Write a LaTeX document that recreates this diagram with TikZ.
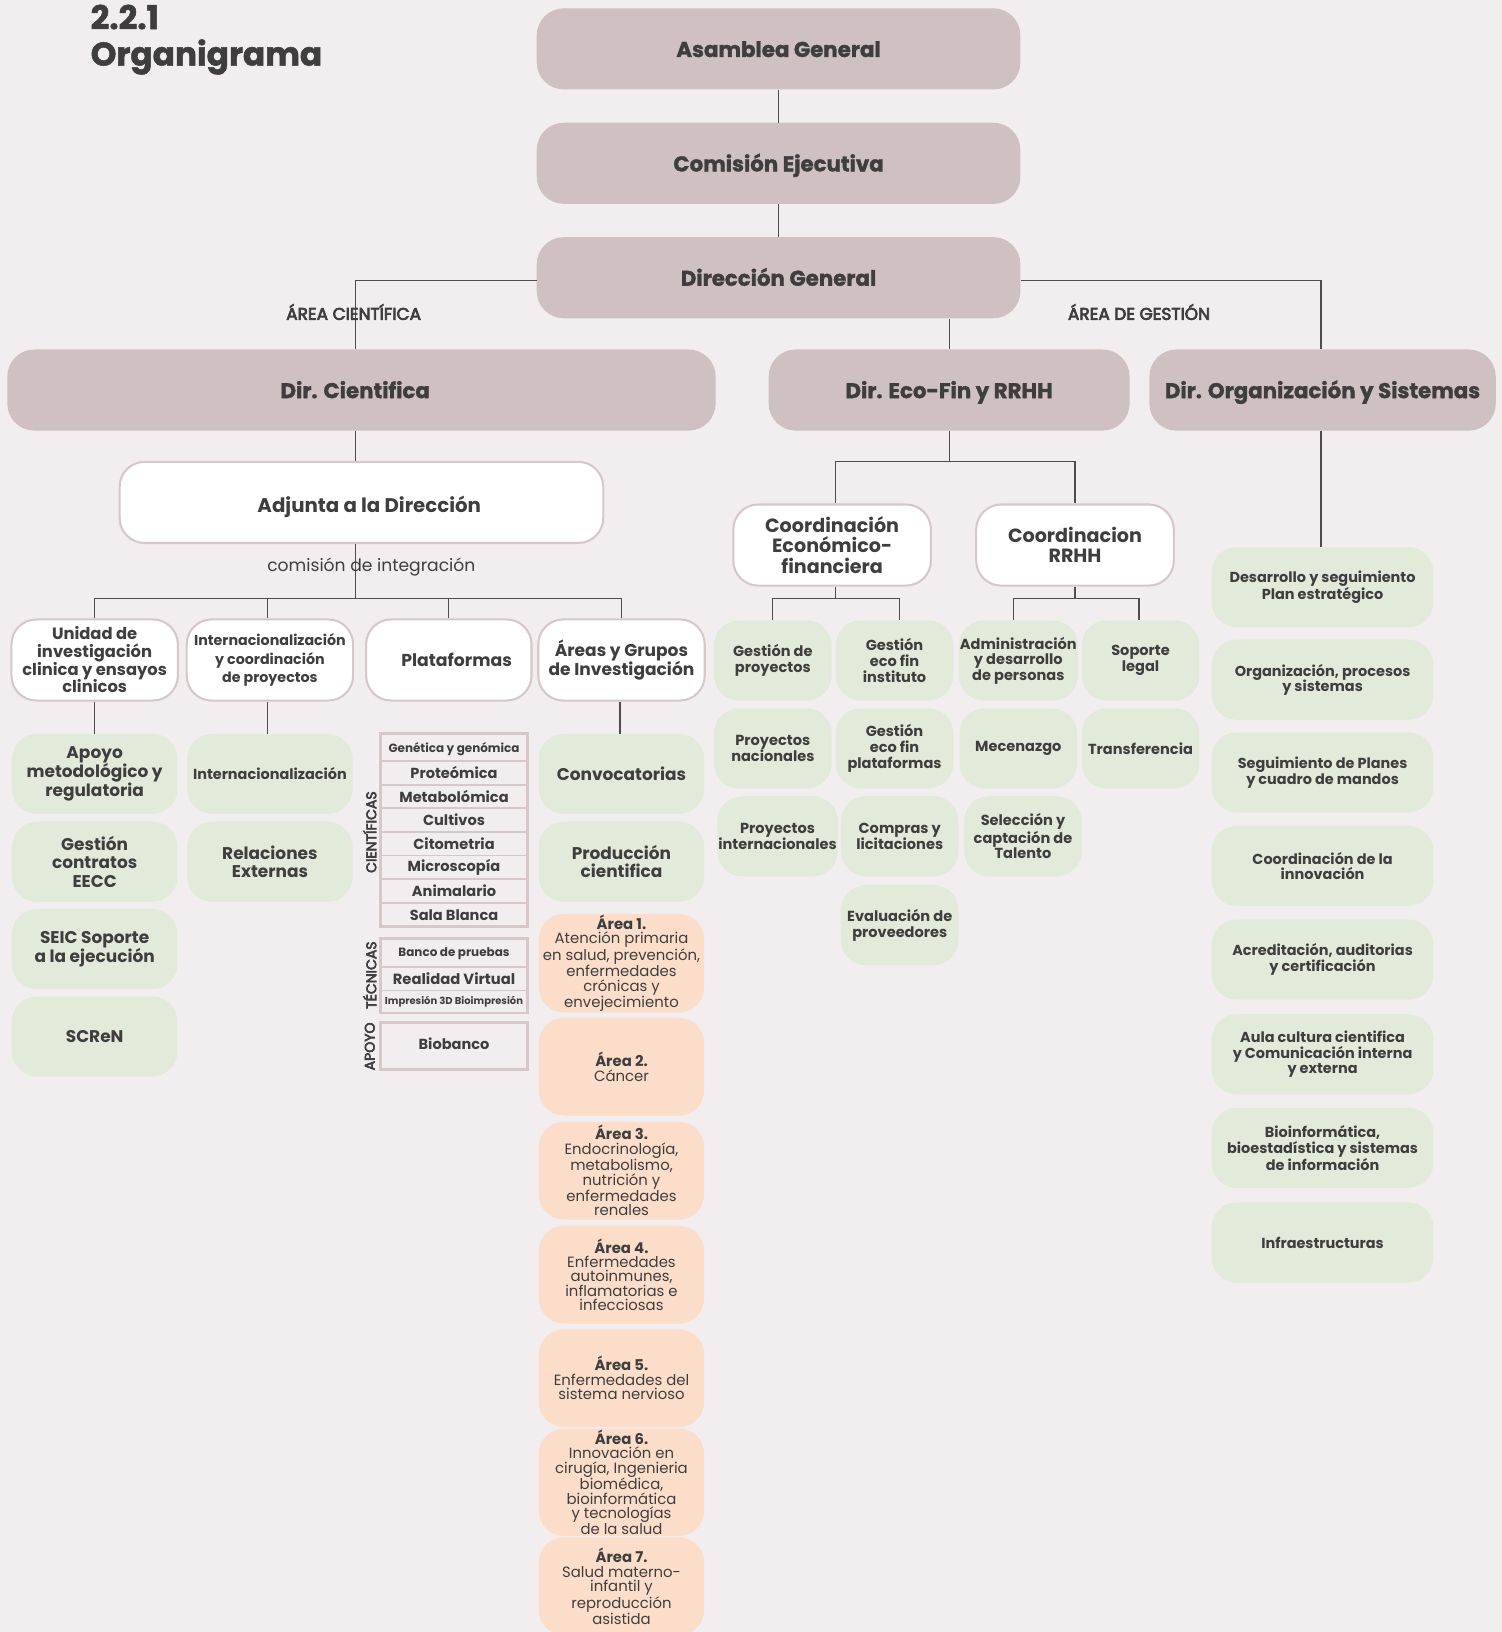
\documentclass[tikz,border=0pt]{standalone}
\usepackage{fontspec}
\setmainfont{Poppins}
\newfontfamily\heavyfont{Poppins}[BoldFeatures={FakeBold=1.5}]
\newfontfamily\medfont{Poppins}[FakeBold=4]

\definecolor{bgc}{HTML}{F2EEEF}
\definecolor{topc}{HTML}{CFC1C1}
\definecolor{bordc}{HTML}{D6C7C8}
\definecolor{greenc}{HTML}{E2EADA}
\definecolor{peachc}{HTML}{FCDDCA}
\definecolor{linec}{HTML}{4D4D4D}
\definecolor{txtc}{HTML}{3E3E3E}

\tikzset{
  topbox/.style={rectangle, rounded corners=26pt, fill=topc, text=txtc, minimum height=78pt,
    inner sep=2pt, text height=17pt, text depth=1.5pt, font=\fontsize{20.5}{22}\heavyfont\bfseries},
  whitebox/.style={rectangle, rounded corners=24pt, fill=white, draw=bordc, line width=2pt,
    text=txtc, minimum height=78pt, inner sep=2pt, align=center},
  greenbox/.style={rectangle, rounded corners=24pt, fill=greenc, text=txtc, minimum height=77pt,
    inner sep=1pt, align=center},
  colbox/.style={greenbox, minimum width=159pt, font=\fontsize{16.3}{17.5}\selectfont\bfseries},
  ecobox/.style={greenbox, minimum width=113pt, font=\fontsize{14}{15}\selectfont\bfseries},
  orgbox/.style={greenbox, minimum width=213pt, font=\fontsize{13.9}{15}\selectfont\bfseries},
  peachbox/.style={rectangle, rounded corners=24pt, fill=peachc, text=txtc, minimum width=159pt,
    minimum height=94pt, inner sep=1pt, align=center, font=\fontsize{14.3}{13.9}\selectfont},
  arealabel/.style={text=txtc, inner sep=1pt, font=\fontsize{16.3}{18}\medfont},
  cell/.style={text=txtc, inner sep=0pt, font=\fontsize{14}{15}\selectfont\bfseries},
  grouplabel/.style={text=txtc, rotate=90, inner sep=0pt, font=\fontsize{13.5}{15}\medfont},
  link/.style={draw=linec, line width=1.1pt},
  tablerule/.style={draw=bordc, line width=1.4pt},
  tableframe/.style={draw=bordc, line width=2.6pt},
}

\begin{document}
\begin{tikzpicture}[x=1pt, y=-1pt]
  \useasboundingbox (0,0) rectangle (1444,1569);
  \fill[bgc] (0,0) rectangle (1444,1569);

  % title
  \node[text=txtc, anchor=base west, inner sep=0pt, font=\fontsize{31.5}{36}\heavyfont\bfseries] (titnum) at (87,28) {2.2.1};
  \node[text=txtc, anchor=base west, inner sep=0pt, font=\fontsize{31.5}{36}\heavyfont\bfseries] (titname) at (87,63) {Organigrama};

  % governing bodies
  \node[topbox, minimum width=465pt] (asamblea) at (748.5,47) {Asamblea General};
  \node[topbox, minimum width=465pt] (comision) at (748.5,157) {Comisión Ejecutiva};
  \node[topbox, minimum width=465pt] (direccion) at (748.5,267) {Dirección General};

  \node[topbox, minimum width=681pt] (dircient) at (347.5,375) {Dir. Cientifica\hspace*{12pt}};
  \node[topbox, minimum width=347pt] (direco) at (912.5,375) {Dir. Eco-Fin y RRHH};
  \node[topbox, minimum width=333pt] (dirorg) at (1271.5,375) {Dir. Organización y Sistemas};

  \draw[link] (asamblea) -- (comision);
  \draw[link] (comision) -- (direccion);
  \draw[link] ([yshift=-3pt]direccion.west) -| ([xshift=-5.5pt]dircient.north);
  \draw[link] (direccion.south -| direco.north) -- (direco.north);
  \draw[link] ([yshift=-3pt]direccion.east) -| ([xshift=-1.5pt]dirorg.north);

  \node[arealabel] (areacien) at (340,300) {ÁREA CIENTÍFICA};
  \node[arealabel] (areagest) at (1095,300) {ÁREA DE GESTIÓN};

  % area cientifica
  \node[whitebox, minimum width=465pt, text height=21pt, text depth=1.5pt, font=\fontsize{19}{20}\selectfont\bfseries] (adjunta) at (347.5,483) {\hspace*{15pt}Adjunta a la Dirección};
  \draw[link] ([xshift=-5.5pt]dircient.south) -- ([xshift=-5.5pt]adjunta.north);

  \coordinate (cienjoin) at (342,575);
  \draw[link] ([xshift=-5.5pt]adjunta.south) -- (cienjoin);
  \node[text=txtc, inner sep=1pt, font=\fontsize{16.5}{18}\selectfont] (comint) at (357,545) {comisión de integración};

  \node[whitebox, minimum width=160pt, font=\fontsize{15.7}{17}\selectfont\bfseries] (unidad) at (91,634.5) {Unidad de\\investigación\\clinica y ensayos\\clinicos};
  \node[whitebox, minimum width=160pt, font=\fontsize{13.7}{17.5}\selectfont\bfseries] (internac) at (259.5,634.5) {Internacionalización\\y coordinación\\de proyectos};
  \node[whitebox, minimum width=159pt, font=\fontsize{16.6}{18}\selectfont\bfseries] (plataformas) at (431.5,634.5) {\hspace*{15pt}Plataformas};
  \node[whitebox, minimum width=160pt, font=\fontsize{16.4}{18.5}\selectfont\bfseries] (areas) at (597.5,634.5) {Áreas y Grupos\\de Investigación};

  \draw[link] (unidad.north) |- (cienjoin) -| (areas.north);
  \draw[link] ([xshift=-2.5pt]internac.north) -- ([xshift=-2.5pt]internac.north |- cienjoin);
  \draw[link] (plataformas.north) -- (plataformas.north |- cienjoin);

  \node[colbox] (apoyo) at (91,744) {Apoyo\\metodológico y\\regulatoria};
  \node[colbox] (gestcontr) at (91,828.5) {Gestión\\contratos\\EECC};
  \node[colbox] (seic) at (91,912.5) {SEIC Soporte\\a la ejecución};
  \node[colbox] (screen) at (91,996.5) {SCReN};
  \draw[link] (unidad) -- (apoyo);

  \node[colbox, font=\fontsize{13.9}{15}\selectfont\bfseries] (internac2) at (259.5,744) {Internacionalización};
  \node[colbox] (relaciones) at (259.5,828.5) {Relaciones\\Externas};
  \draw[link] ([xshift=-2.5pt]internac.south) -- ([xshift=-2.5pt]internac2.north);

  \node[colbox] (convoc) at (597.5,744) {Convocatorias};
  \node[colbox] (produccion) at (597.5,828.5) {Producción\\cientifica};
  \draw[link] ([xshift=-1.5pt]areas.south) -- ([xshift=-1.5pt]convoc.north);

  % plataformas
  \draw[tableframe] (366,705) rectangle (507,891);
  \draw[tablerule] (366,731.5) -- (507,731.5) (366,754.5) -- (507,754.5) (366,777) -- (507,777)
    (366,800) -- (507,800) (366,822.5) -- (507,822.5) (366,845) -- (507,845) (366,868) -- (507,868);
  \node[cell, font=\fontsize{11.5}{13}\selectfont\bfseries] (genetica) at (436.5,720) {Genética y genómica};
  \node[cell] (proteomica) at (436.5,743) {Proteómica};
  \node[cell] (metabolomica) at (436.5,766) {Metabolómica};
  \node[cell] (cultivos) at (436.5,788.5) {Cultivos};
  \node[cell] (citometria) at (436.5,811) {Citometria};
  \node[cell] (microscopia) at (436.5,834) {Microscopía};
  \node[cell] (animalario) at (436.5,856.5) {Animalario};
  \node[cell] (salablanca) at (436.5,879.5) {Sala Blanca};

  \draw[tableframe] (366,902) rectangle (507,974);
  \draw[tablerule] (366,929.5) -- (507,929.5) (366,952) -- (507,952);
  \node[cell, font=\fontsize{11.5}{13}\selectfont\bfseries] (banco) at (436.5,917) {Banco de pruebas};
  \node[cell, font=\fontsize{14.2}{15}\selectfont\bfseries] (realidad) at (436.5,941) {Realidad Virtual};
  \node[cell, font=\fontsize{9.6}{11}\selectfont\bfseries] (impresion) at (436.5,963) {Impresión 3D Bioimpresión};

  \draw[tableframe] (366,983) rectangle (507,1028);
  \node[cell] (biobanco) at (436.5,1003) {Biobanco};

  \node[grouplabel] (lblcien) at (355.5,800) {CIENTÍFICAS};
  \node[grouplabel] (lbltec) at (355.5,937.5) {TÉCNICAS};
  \node[grouplabel] (lblapoyo) at (355.5,1006) {APOYO};

  % areas de investigacion
  \node[peachbox] (area1) at (597.5,926) {\textbf{Área 1.}\\Atención primaria\\en salud, prevención,\\enfermedades\\crónicas y\\envejecimiento};
  \node[peachbox] (area2) at (597.5,1025.5) {\textbf{Área 2.}\\Cáncer};
  \node[peachbox] (area3) at (597.5,1125.5) {\textbf{Área 3.}\\Endocrinología,\\metabolismo,\\nutrición y\\enfermedades\\renales};
  \node[peachbox] (area4) at (597.5,1225.5) {\textbf{Área 4.}\\Enfermedades\\autoinmunes,\\inflamatorias e\\infecciosas};
  \node[peachbox] (area5) at (597.5,1325) {\textbf{Área 5.}\\Enfermedades del\\sistema nervioso};
  \node[peachbox] (area6) at (597.5,1425) {\textbf{Área 6.}\\Innovación en\\cirugía, Ingenieria\\biomédica,\\bioinformática\\y tecnologías\\de la salud};
  \node[peachbox] (area7) at (597.5,1525) {\textbf{Área 7.}\\Salud materno-\\infantil y\\reproducción\\asistida};

  % area de gestion
  \node[whitebox, minimum width=190pt, font=\fontsize{18.4}{19.5}\selectfont\bfseries] (coordeco) at (800,524) {Coordinación\\Económico-\\financiera};
  \node[whitebox, minimum width=190pt, font=\fontsize{18.4}{19.5}\selectfont\bfseries] (coordrrhh) at (1033.5,524) {Coordinacion\\RRHH};
  \coordinate (ecojoin) at (912.5,444);
  \draw[link] (direco.south) -- (ecojoin);
  \draw[link] ([xshift=3pt]coordeco.north) |- (ecojoin) -| (coordrrhh.north);

  \node[ecobox] (gproy) at (743,635) {Gestión de\\proyectos};
  \node[ecobox] (pnac) at (743,719.5) {Proyectos\\nacionales};
  \node[ecobox] (pint) at (747.5,804) {Proyectos\\internacionales};
  \node[ecobox] (gecoinst) at (860,635) {Gestión\\eco fin\\instituto};
  \node[ecobox] (gecoplat) at (860,719.5) {Gestión\\eco fin\\plataformas};
  \node[ecobox] (compras) at (865,804) {Compras y\\licitaciones};
  \node[ecobox] (evalprov) at (865,889.5) {Evaluación de\\proveedores};
  \node[ecobox] (admin) at (979,635) {Administración\\y desarrollo\\de personas};
  \node[ecobox] (mecenazgo) at (979,719.5) {Mecenazgo};
  \node[ecobox] (seleccion) at (983.5,804) {Selección y\\captación de\\Talento};
  \node[ecobox] (soporte) at (1096.5,635) {Soporte\\legal};
  \node[ecobox] (transf) at (1096.5,719.5) {Transferencia};

  \coordinate (ecofinjoin) at (803,575);
  \draw[link] ([xshift=3pt]coordeco.south) -- (ecofinjoin);
  \draw[link] (gproy.north) |- (ecofinjoin) -| ([xshift=5pt]gecoinst.north);
  \coordinate (rrhhjoin) at (1033.5,575);
  \draw[link] (coordrrhh.south) -- (rrhhjoin);
  \draw[link] ([xshift=-5pt]admin.north) |- (rrhhjoin) -| ([xshift=-1.5pt]soporte.north);

  \node[orgbox] (desarrollo) at (1271.5,564.5) {Desarrollo y seguimiento\\Plan estratégico};
  \node[orgbox] (organizacion) at (1271.5,653.5) {Organización, procesos\\y sistemas};
  \node[orgbox] (seguimiento) at (1271.5,742.5) {Seguimiento de Planes\\y cuadro de mandos};
  \node[orgbox] (coordinnov) at (1271.5,832.5) {Coordinación de la\\innovación};
  \node[orgbox] (acreditacion) at (1271.5,922.5) {Acreditación, auditorias\\y certificación};
  \node[orgbox] (aula) at (1271.5,1013.5) {Aula cultura cientifica\\y Comunicación interna\\y externa};
  \node[orgbox] (bioinf) at (1271.5,1103.5) {Bioinformática,\\bioestadística y sistemas\\de información};
  \node[orgbox] (infra) at (1271.5,1194.5) {Infraestructuras};
  \draw[link] ([xshift=-1.5pt]dirorg.south) -- ([xshift=-1.5pt]desarrollo.north);
\end{tikzpicture}
\end{document}
